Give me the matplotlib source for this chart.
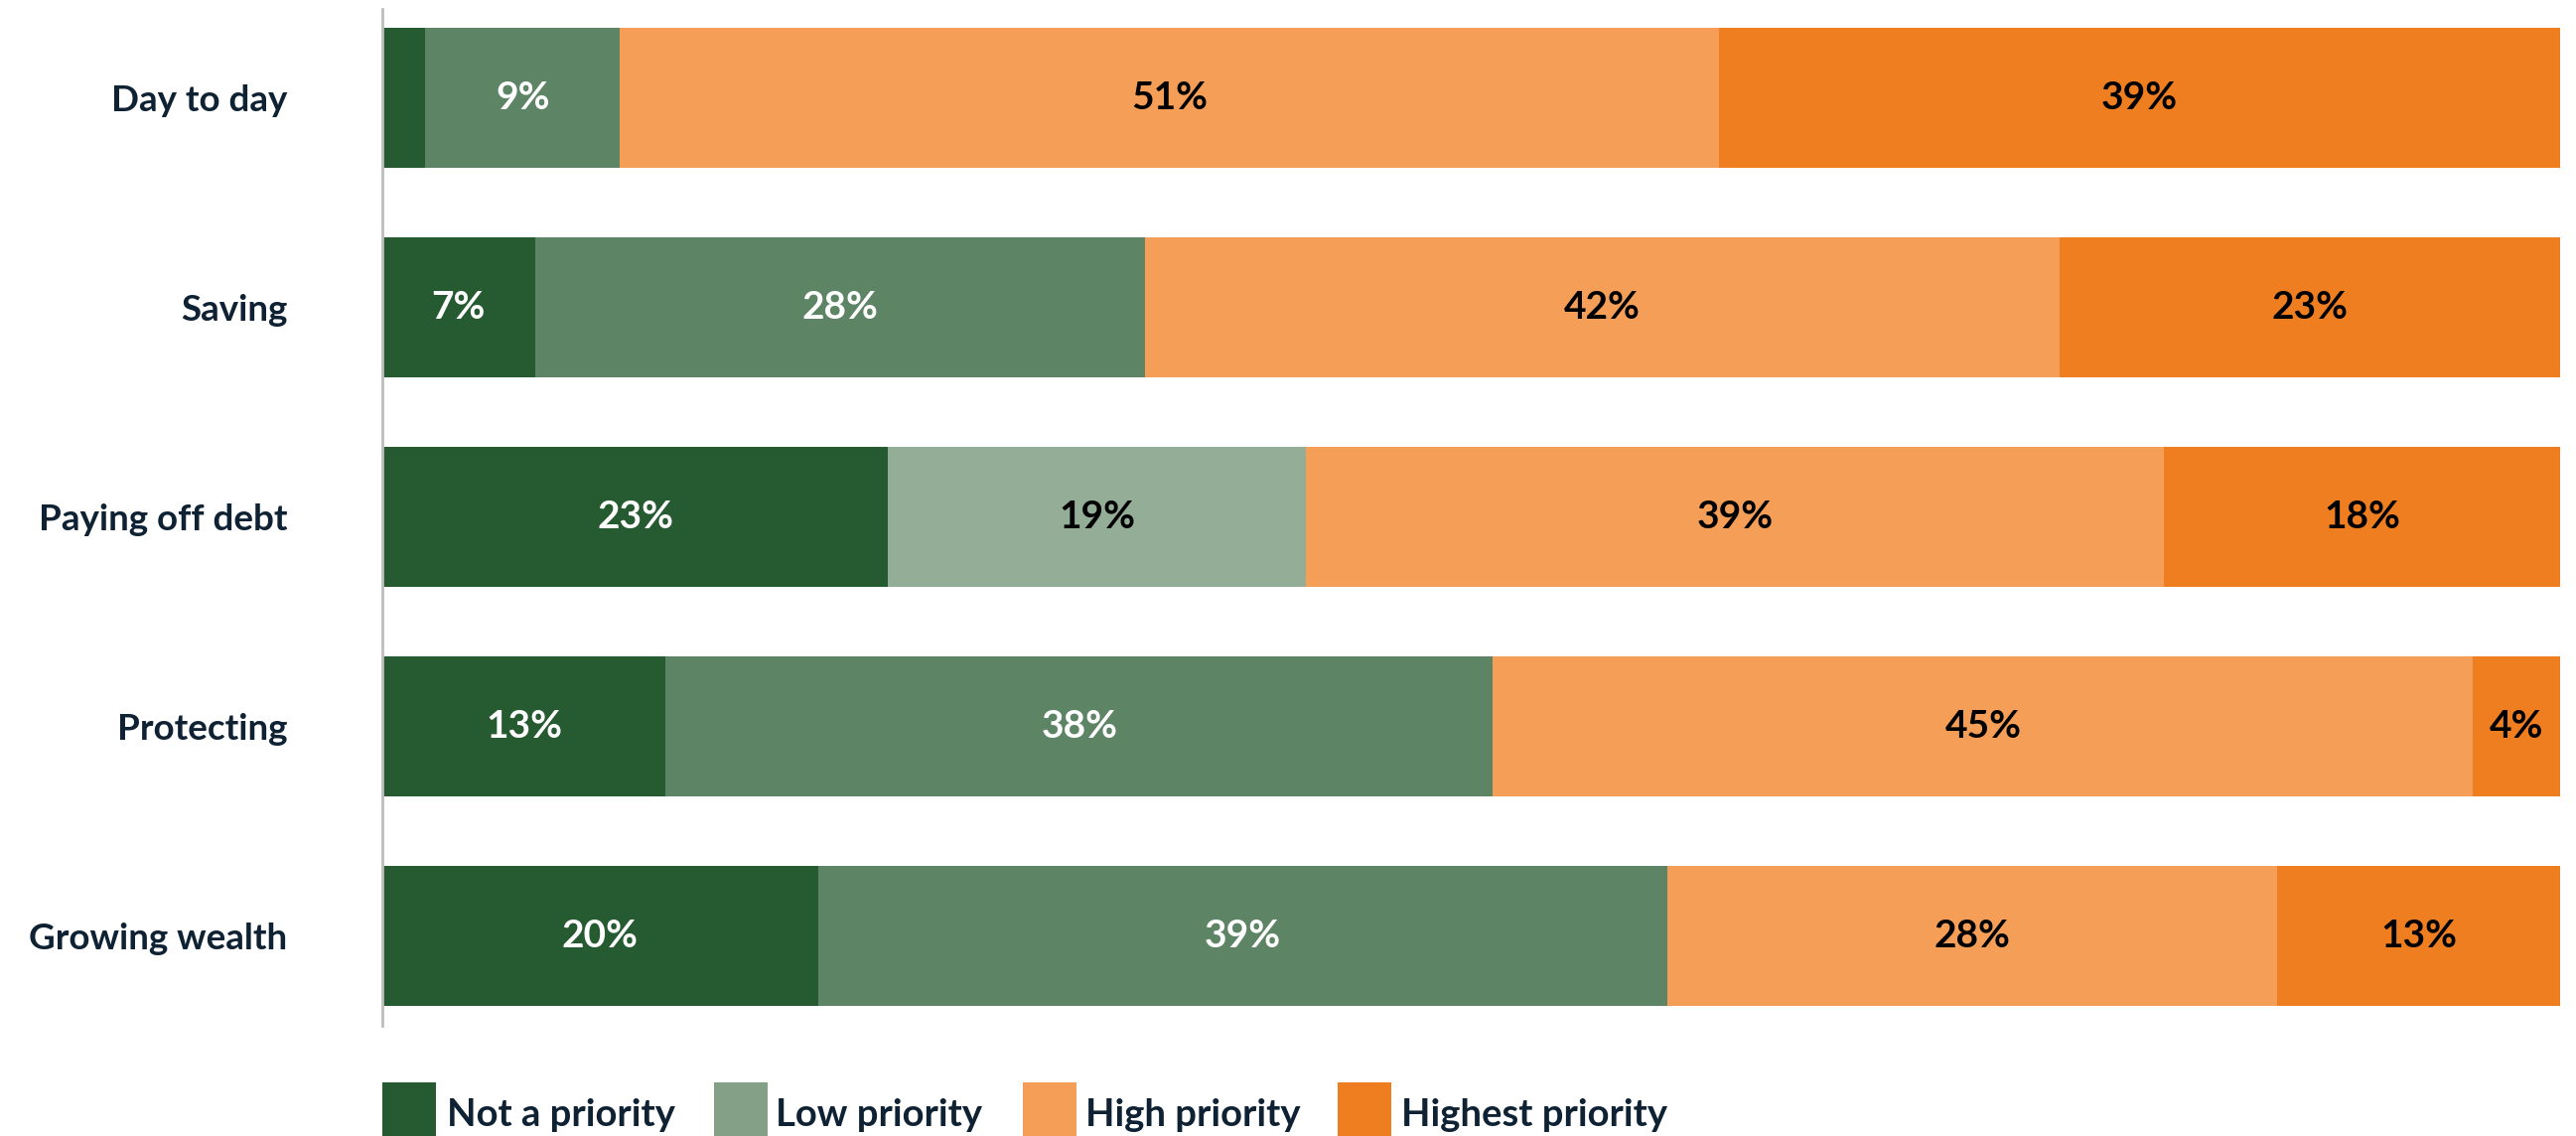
import matplotlib.pyplot as plt
from matplotlib.patches import Rectangle
import numpy as np

plt.rcParams['font.family'] = ['Lato', 'DejaVu Sans']

categories = ['Day to day', 'Saving', 'Paying off debt', 'Protecting', 'Growing wealth']
series = ['Not a priority', 'Low priority', 'High priority', 'Highest priority']
not_priority = [2, 7, 23, 13, 20]
low_priority = [9, 28, 19, 38, 39]
high_priority = [51, 42, 39, 45, 28]
highest_priority = [39, 23, 18, 4, 13]
show_label = [False, True, True, True, True]   # first segment of "Day to day" too thin for text

navy = '#0F2233'
dark_green = '#265A31'
mid_green = '#5D8464'
pale_green = '#94AD96'
legend_green = '#84A087'
light_orange = '#F49E57'
orange = '#EF7E20'

values = np.array([not_priority, low_priority, high_priority, highest_priority], dtype=float)
shares = values / values.sum(axis=0) * 100   # each row fills the full bar

fig = plt.figure(figsize=(25.94, 11.44), dpi=100)
ax = fig.add_axes([385 / 2594, 1 - 1033 / 1144, (2578 - 385) / 2594, (1033 - 9) / 1144])

y = np.arange(len(categories))
seg_colors = [
    [dark_green] * 5,
    [mid_green, mid_green, pale_green, mid_green, mid_green],
    [light_orange] * 5,
    [orange] * 5,
]
text_colors = [
    ['white'] * 5,
    ['white', 'white', 'black', 'white', 'white'],
    ['black'] * 5,
    ['black'] * 5,
]

left = np.zeros(len(categories))
for i in range(len(series)):
    ax.barh(y, shares[i], left=left, height=0.668, color=seg_colors[i], linewidth=0)
    for j in range(len(categories)):
        if i == 0 and not show_label[j]:
            continue
        ax.text(left[j] + shares[i][j] / 2, y[j], f'{int(values[i][j])}%',
                ha='center', va='center', fontsize=28, fontweight='bold',
                color=text_colors[i][j])
    left += shares[i]

ax.set_xlim(0, 100)
ax.set_ylim(len(categories) - 1 + 0.427, -0.424)
ax.set_yticks(y)
ax.set_yticklabels(categories, fontsize=26.5, fontweight='bold', color=navy)
ax.tick_params(axis='y', length=0, pad=69)
ax.set_xticks([])
for side in ['top', 'right', 'bottom']:
    ax.spines[side].set_visible(False)
ax.spines['left'].set_color('#BDBDBD')
ax.spines['left'].set_linewidth(2)

# legend row along the bottom edge
legend_colors = [dark_green, legend_green, light_orange, orange]
swatch_x = [385, 719, 1030, 1347]
text_x = [450, 781, 1093, 1411]
for name, col, sx, tx in zip(series, legend_colors, swatch_x, text_x):
    fig.patches.append(Rectangle((sx / 2594, -0.02), 54 / 2594, (1144 - 1090) / 1144 + 0.02,
                                 transform=fig.transFigure, color=col, linewidth=0))
    fig.text(tx / 2594, 1 - 1123 / 1144, name, ha='left', va='center',
             fontsize=27.5, fontweight='bold', color=navy)

fig.savefig('out.png', dpi=100)
